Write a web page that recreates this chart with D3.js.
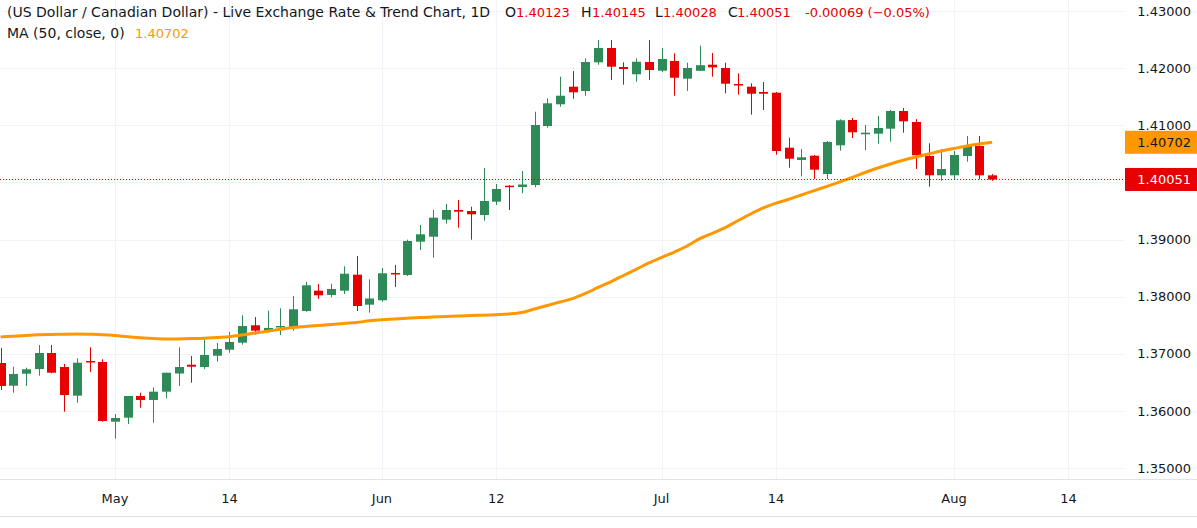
<!DOCTYPE html>
<html>
<head>
<meta charset="utf-8">
<script src="https://cdn.jsdelivr.net/npm/d3@7"></script>
<style>
body{margin:0;background:#fff;}
text{font-family:"DejaVu Sans",Roboto,sans-serif;}
</style>
</head>
<body>
<div id="chart"></div>
<script>
// daily candles, oldest first (index 0 is cut at the left edge)
var openVals = [1.36838,1.36441,1.36651,1.36733,1.37013,1.36768,1.36266,1.36873,1.36856,1.35811,
  1.35881,1.36261,1.36191,1.36336,1.36654,1.36808,1.36768,1.36966,1.37071,1.37194,
  1.37498,1.37381,1.37463,1.37451,1.37748,1.38104,1.38029,1.38104,1.38384,1.37859,
  1.37936,1.38414,1.38379,1.38962,1.39049,1.39347,1.39517,1.39499,1.39429,1.39662,
  1.39942,1.39919,1.39954,1.40987,1.41367,1.41675,1.41600,1.42102,1.42352,1.42020,
  1.41892,1.42107,1.41955,1.42125,1.41815,1.41953,1.42060,1.42002,1.41722,1.41675,
  1.41582,1.41570,1.40607,1.40392,1.40467,1.40147,1.40649,1.41092,1.40842,1.40852,
  1.40940,1.41249,1.41057,1.40462,1.40124,1.40124,1.40462,1.40637,1.40123];
var highVals = [1.37101,1.36773,1.36756,1.37153,1.37153,1.36821,1.36920,1.37113,1.36903,1.35945,
  1.36261,1.36318,1.36413,1.36668,1.37113,1.36961,1.37253,1.37188,1.37381,1.37673,
  1.37643,1.37754,1.37796,1.38011,1.38256,1.38221,1.38226,1.38531,1.38711,1.38303,
  1.38501,1.38554,1.38997,1.39254,1.39517,1.39622,1.39692,1.39574,1.40252,1.39972,
  1.39954,1.40199,1.41237,1.41472,1.41850,1.41950,1.42172,1.42492,1.42492,1.42102,
  1.42172,1.42492,1.42352,1.42260,1.42095,1.42393,1.42265,1.42095,1.41909,1.41734,
  1.41757,1.41582,1.40782,1.40584,1.40479,1.40724,1.41104,1.41127,1.41004,1.41162,
  1.41267,1.41302,1.41109,1.40684,1.40584,1.40549,1.40812,1.40812,1.40145];
var lowVals = [1.36366,1.36318,1.36436,1.36616,1.36658,1.35986,1.36143,1.36681,1.35811,1.35513,
  1.35770,1.36056,1.35793,1.36220,1.36436,1.36493,1.36728,1.36861,1.37018,1.37159,
  1.37334,1.37369,1.37328,1.37404,1.37736,1.37959,1.37988,1.38046,1.37748,1.37719,
  1.37911,1.38169,1.38361,1.38816,1.38681,1.39277,1.39207,1.38997,1.39329,1.39604,
  1.39517,1.39809,1.39914,1.40957,1.41325,1.41465,1.41517,1.42060,1.41792,1.41710,
  1.41762,1.41792,1.41927,1.41517,1.41600,1.41950,1.41850,1.41559,1.41535,1.41185,
  1.41267,1.40484,1.40257,1.40106,1.40059,1.40059,1.40555,1.40777,1.40567,1.40677,
  1.40712,1.40870,1.40234,1.39924,1.40029,1.40059,1.40362,1.40054,1.40028];
var closeVals = [1.36436,1.36646,1.36728,1.37013,1.36668,1.36278,1.36843,1.36856,1.35823,1.35875,
  1.36261,1.36191,1.36336,1.36668,1.36768,1.36773,1.36978,1.37083,1.37206,1.37486,
  1.37404,1.37451,1.37486,1.37778,1.38198,1.38023,1.38134,1.38401,1.37836,1.37967,
  1.38408,1.38396,1.38974,1.39091,1.39382,1.39517,1.39487,1.39441,1.39674,1.39884,
  1.39924,1.39963,1.41004,1.41384,1.41517,1.41577,1.42107,1.42352,1.42025,1.41985,
  1.42112,1.41967,1.42160,1.41832,1.42002,1.42051,1.42014,1.41727,1.41699,1.41552,
  1.41552,1.40549,1.40414,1.40439,1.40222,1.40707,1.41087,1.40877,1.40870,1.40952,
  1.41249,1.41069,1.40474,1.40124,1.40234,1.40479,1.40637,1.40124,1.40051];
// MA(50, close)
var maVals = [1.37293,1.37307,1.37321,1.37332,1.37337,1.37342,1.37346,1.37341,1.37334,1.37320,
  1.37297,1.37279,1.37265,1.37258,1.37260,1.37265,1.37271,1.37285,1.37299,1.37328,
  1.37362,1.37395,1.37428,1.37458,1.37477,1.37496,1.37512,1.37531,1.37547,1.37577,
  1.37596,1.37608,1.37622,1.37635,1.37643,1.37652,1.37661,1.37670,1.37675,1.37684,
  1.37696,1.37722,1.37784,1.37845,1.37906,1.37966,1.38055,1.38160,1.38260,1.38370,
  1.38478,1.38589,1.38687,1.38781,1.38886,1.39014,1.39109,1.39208,1.39329,1.39446,
  1.39552,1.39636,1.39704,1.39779,1.39856,1.39930,1.40007,1.40085,1.40173,1.40252,
  1.40322,1.40387,1.40444,1.40497,1.40549,1.40593,1.40637,1.40672,1.40702];
var yTicks = [1.35,1.36,1.37,1.38,1.39,1.40,1.41,1.42,1.43];
var xTickIdx = [9,18,30,39,52,61,75,84];
var xTickLabels = ["May","14","Jun","12","Jul","14","Aug","14"];
var lastClose = 1.40051, lastMa = 1.40702;

(function(){
    var width = 1197, height = 528;
    var plotRight = 1125, plotBottom = 479.5, axisBottom = 516.5;
    var upColor = "#2e8a57", downColor = "#e60000", maColor = "#ff9800";
    var gridColor = "#f0f3fa", textColor = "#131722";

    var svg = d3.select("#chart").append("svg")
        .attr("width", width)
        .attr("height", height);

    var x = d3.scaleLinear().domain([9, 75]).range([115, 954]);
    var y = d3.scaleLinear().domain([1.35, 1.43]).range([468, 11]);
    var px = function(v){ return Math.round(v) + 0.5; };

    //grid
    svg.append("g").selectAll("line").data(yTicks).enter().append("line")
        .attr("x1", 0).attr("x2", plotRight)
        .attr("y1", function(d){ return px(y(d)); })
        .attr("y2", function(d){ return px(y(d)); })
        .style("stroke", gridColor);
    svg.append("g").selectAll("line").data(xTickIdx).enter().append("line")
        .attr("x1", function(d){ return px(x(d)); })
        .attr("x2", function(d){ return px(x(d)); })
        .attr("y1", 0).attr("y2", plotBottom)
        .style("stroke", gridColor);

    //time axis borders
    svg.append("line").attr("x1", 0).attr("x2", width).attr("y1", plotBottom).attr("y2", plotBottom)
        .style("stroke", "#e0e3eb");
    svg.append("line").attr("x1", 0).attr("x2", width).attr("y1", axisBottom).attr("y2", axisBottom)
        .style("stroke", "#e0e3eb");

    //candles
    var candles = d3.range(openVals.length).map(function(i){
        return {i: i, o: openVals[i], h: highVals[i], l: lowVals[i], c: closeVals[i]};
    });
    var cg = svg.append("g").selectAll("g").data(candles).enter().append("g");
    cg.append("line")
        .attr("x1", function(d){ return px(x(d.i)); })
        .attr("x2", function(d){ return px(x(d.i)); })
        .attr("y1", function(d){ return y(d.h); })
        .attr("y2", function(d){ return y(d.l); })
        .style("stroke", function(d){ return d.c >= d.o ? upColor : downColor; })
        .style("stroke-width", 1);
    cg.append("rect")
        .attr("x", function(d){ return Math.round(x(d.i)) - 4; })
        .attr("width", 9)
        .attr("y", function(d){ return y(Math.max(d.o, d.c)); })
        .attr("height", function(d){ return Math.max(1.5, Math.abs(y(d.o) - y(d.c))); })
        .style("fill", function(d){ return d.c >= d.o ? upColor : downColor; });

    //moving average
    var maLine = d3.line()
        .x(function(d, i){ return x(i); })
        .y(function(d){ return y(d); })
        .curve(d3.curveMonotoneX);
    svg.append("path").datum(maVals)
        .attr("d", maLine)
        .style("fill", "none")
        .style("stroke", maColor)
        .style("stroke-width", 3);

    //last price line
    svg.append("line")
        .attr("x1", 0).attr("x2", plotRight)
        .attr("y1", px(y(lastClose))).attr("y2", px(y(lastClose)))
        .style("stroke", downColor)
        .style("stroke-dasharray", "1,2");

    //price scale (labels under the last price box are hidden, as in the original)
    var shownTicks = yTicks.filter(function(d){ return Math.abs(y(d) - y(lastClose)) > 12; });
    svg.append("g").selectAll("text").data(shownTicks).enter().append("text")
        .attr("x", 1191)
        .attr("y", function(d){ return y(d); })
        .attr("dy", "0.36em")
        .style("text-anchor", "end")
        .style("font-size", "13px")
        .style("fill", textColor)
        .text(function(d){ return d.toFixed(5); });

    var boxes = [{v: lastMa, fill: maColor, color: "#131722"}, {v: lastClose, fill: downColor, color: "#ffffff"}];
    var bg = svg.append("g").selectAll("g").data(boxes).enter().append("g");
    bg.append("rect")
        .attr("x", plotRight).attr("width", width - plotRight)
        .attr("y", function(d){ return y(d.v) - 11.5; })
        .attr("height", 23)
        .style("fill", function(d){ return d.fill; });
    bg.append("text")
        .attr("x", 1191)
        .attr("y", function(d){ return y(d.v); })
        .attr("dy", "0.36em")
        .style("text-anchor", "end")
        .style("font-size", "13px")
        .style("fill", function(d){ return d.color; })
        .text(function(d){ return d.v.toFixed(5); });

    //time scale
    svg.append("g").selectAll("text").data(xTickIdx).enter().append("text")
        .attr("x", function(d){ return x(d); })
        .attr("y", 498)
        .attr("dy", "0.36em")
        .style("text-anchor", "middle")
        .style("font-size", "13px")
        .style("fill", textColor)
        .text(function(d, i){ return xTickLabels[i]; });

    //legend
    var legend = [
        {x: 7, t: "(US Dollar / Canadian Dollar) - Live Exchange Rate & Trend Chart, 1D", c: textColor, s: 14},
        {x: 505, t: "O", c: textColor, s: 14}, {x: 516, t: "1.40123", c: downColor, s: 13},
        {x: 581, t: "H", c: textColor, s: 14}, {x: 592, t: "1.40145", c: downColor, s: 13},
        {x: 655, t: "L", c: textColor, s: 14}, {x: 663, t: "1.40028", c: downColor, s: 13},
        {x: 728, t: "C", c: textColor, s: 14}, {x: 737, t: "1.40051", c: downColor, s: 13},
        {x: 805, t: "-0.00069 (\u22120.05%)", c: downColor, s: 13}
    ];
    svg.append("g").selectAll("text").data(legend).enter().append("text")
        .attr("x", function(d){ return d.x; })
        .attr("y", 17)
        .style("font-size", function(d){ return d.s + "px"; })
        .style("fill", function(d){ return d.c; })
        .text(function(d){ return d.t; });
    svg.append("text").attr("x", 7).attr("y", 38)
        .style("font-size", "14px").style("fill", textColor)
        .text("MA (50, close, 0)");
    svg.append("text").attr("x", 135).attr("y", 38)
        .style("font-size", "13px").style("fill", maColor)
        .text(lastMa.toFixed(5));
})();
</script>
</body>
</html>
